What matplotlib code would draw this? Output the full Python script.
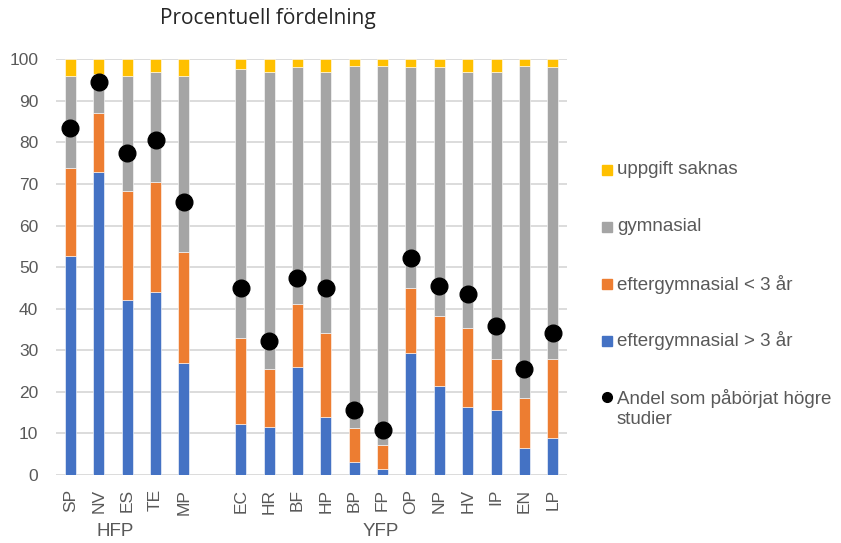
import matplotlib
matplotlib.use("Agg")
from matplotlib import pyplot as plt
from matplotlib.lines import Line2D

hfp = ["SP", "NV", "ES", "TE", "MP"]
yfp = ["EC", "HR", "BF", "HP", "BP", "FP", "OP", "NP", "HV", "IP", "EN", "LP"]

# andelar (procent) per program, HFP först, sedan YFP
over3 = [52.7, 72.9, 42.1, 44.1, 27.0,
         12.2, 11.6, 26.1, 14.0, 3.2, 1.4, 29.3, 21.3, 16.3, 15.6, 6.4, 8.8]
under3 = [21.1, 14.1, 26.1, 26.5, 26.6,
          20.8, 14.0, 15.0, 20.2, 8.0, 5.8, 15.6, 17.0, 19.0, 12.2, 12.2, 19.1]
gymn = [22.3, 9.5, 27.9, 26.4, 42.5,
        64.6, 71.4, 57.1, 62.8, 87.2, 91.2, 53.3, 59.9, 61.6, 69.2, 79.9, 70.3]
saknas = [3.9, 3.5, 3.9, 3.0, 3.9,
          2.4, 3.0, 1.8, 3.0, 1.6, 1.6, 1.8, 1.8, 3.1, 3.0, 1.5, 1.8]
hogre = [83.4, 94.6, 77.4, 80.6, 65.7,
         45.1, 32.3, 47.5, 45.1, 15.6, 10.8, 52.1, 45.5, 43.5, 35.8, 25.4, 34.1]

c_blue, c_orange, c_gray, c_yellow = "#4472C4", "#ED7D31", "#A5A5A5", "#FFC000"
txt = "#595959"
font = "Liberation Sans"

# en tom plats mellan grupperna
x = list(range(len(hfp))) + [len(hfp) + 1 + i for i in range(len(yfp))]
labels = hfp + yfp

fig = plt.figure(figsize=(8.41, 5.43), dpi=100)
ax = fig.add_axes([0.0669, 0.1252, 0.6073, 0.7656])

w = 0.39
b1 = over3
b2 = [a + b for a, b in zip(b1, under3)]
b3 = [a + b for a, b in zip(b2, gymn)]
kw = dict(width=w, edgecolor="white", linewidth=0.4, zorder=2)
ax.bar(x, over3, color=c_blue, **kw)
ax.bar(x, under3, bottom=b1, color=c_orange, **kw)
ax.bar(x, gymn, bottom=b2, color=c_gray, **kw)
ax.bar(x, saknas, bottom=b3, color=c_yellow, **kw)
ax.plot(x, hogre, "o", color="black", markersize=12, zorder=3)

ax.set_xlim(-0.5, 17.5)
ax.set_ylim(0, 100)
ax.set_yticks(range(0, 101, 10))
ax.set_xticks(x)
ax.set_xticklabels(labels, rotation=90)
for s in ax.spines.values():
    s.set_visible(False)
ax.grid(axis="y", color="#D9D9D9", linewidth=1.3, zorder=0)
ax.set_axisbelow(True)
ax.tick_params(axis="both", length=0, colors=txt, labelsize=12.5)
ax.tick_params(axis="y", pad=13)
ax.tick_params(axis="x", pad=10)
for t in ax.get_xticklabels() + ax.get_yticklabels():
    t.set_fontfamily(font)

# gruppetiketter
ax.text(1.57, -13.5, "HFP", transform=ax.transData, ha="center", va="center",
        fontsize=13.5, color=txt, family=font)
ax.text(10.94, -13.5, "YFP", transform=ax.transData, ha="center", va="center",
        fontsize=13.5, color=txt, family=font)

fig.text(0.319, 0.966, "Procentuell fördelning", ha="center", va="center",
         fontsize=15, color="#262626", family="Open Sans")

# förklaring
leg = [(c_yellow, "s", "uppgift saknas"),
       (c_gray, "s", "gymnasial"),
       (c_orange, "s", "eftergymnasial < 3 år"),
       (c_blue, "s", "eftergymnasial > 3 år"),
       ("black", "o", "Andel som påbörjat högre\nstudier")]
ys = [170, 227, 284, 341, 397]
for (c, m, lab), yp in zip(leg, ys):
    yf = 1 - yp / 543
    fig.add_artist(Line2D([607 / 841], [yf], marker=m, color=c, markersize=7,
                          linestyle="none", transform=fig.transFigure))
    ty = yp + 11.5 if "\n" in lab else yp
    fig.text(617 / 841, 1 - ty / 543, lab, ha="left", va="center",
             fontsize=13.5, color=txt, family=font, linespacing=1.2)

fig.savefig("out.png", dpi=100)
